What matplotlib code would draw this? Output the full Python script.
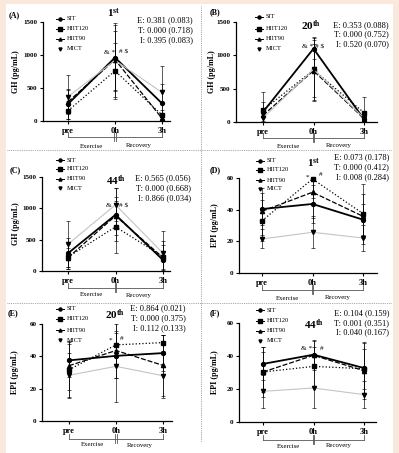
import matplotlib
matplotlib.use('Agg')
import matplotlib.pyplot as plt
from matplotlib.lines import Line2D
from matplotlib.patches import Rectangle
from matplotlib.transforms import blended_transform_factory

W, H = 399, 453
plt.rcParams['font.family'] = ['Liberation Serif', 'DejaVu Serif']
plt.rcParams['mathtext.fontset'] = 'custom'
plt.rcParams['mathtext.rm'] = 'Liberation Serif'
plt.rcParams['mathtext.bf'] = 'Liberation Serif:bold'
plt.rcParams['mathtext.it'] = 'Liberation Serif:italic'

# ---------------- data ----------------
timepoints = ['pre', '0h', '3h']
groups = ['SIT', 'HIIT120', 'HIIT90', 'MICT']

# GH (pg/mL), session 1
gh1_means = [[257, 961, 267], [156, 760, 90], [290, 930, 40], [367, 920, 433]]
gh1_sds = [[230, 500, 300], [150, 420, 80], [180, 560, 40], [330, 450, 400]]
# GH session 20
gh20_means = [[150, 1100, 40], [180, 780, 140], [100, 770, 50], [60, 790, 60]]
gh20_sds = [[150, 160, 40], [270, 450, 230], [90, 400, 50], [60, 480, 60]]
# GH session 44
gh44_means = [[283, 897, 176], [224, 705, 230], [213, 880, 213], [427, 1057, 283]]
gh44_sds = [[250, 420, 150], [200, 420, 250], [150, 300, 200], [370, 260, 360]]
# EPI (pg/mL), session 1
epi1_means = [[40.4, 43.6, 33.7], [33.0, 59.4, 37.5], [39.0, 51.0, 35.8], [21.5, 25.7, 22.1]]
epi1_sds = [[10, 12, 10], [13, 12, 19], [15, 16, 14], [6, 10, 8]]
# EPI session 20
epi20_means = [[37.5, 40.3, 42.0], [31.7, 47.1, 48.5], [34.2, 43.6, 34.4], [28.3, 33.8, 28.0]]
epi20_sds = [[10, 14, 11], [17, 13, 5], [15, 17, 19], [14, 22, 14]]
# EPI session 44
epi44_means = [[35.2, 40.8, 32.7], [30.3, 33.7, 32.3], [30.3, 40.4, 31.1], [18.6, 20.6, 16.6]]
epi44_sds = [[10, 8, 16], [12, 12, 12], [15, 9, 17], [10, 12, 8]]

stats_A = ['E: 0.381 (0.083)', 'T: 0.000 (0.718)', 'I: 0.395 (0.083)']
stats_B = ['E: 0.353 (0.088)', 'T: 0.000 (0.752)', 'I: 0.520 (0.070)']
stats_C = ['E: 0.565 (0.056)', 'T: 0.000 (0.668)', 'I: 0.866 (0.034)']
stats_D = ['E: 0.073 (0.178)', 'T: 0.000 (0.412)', 'I: 0.008 (0.284)']
stats_E = ['E: 0.864 (0.021)', 'T: 0.000 (0.375)', 'I: 0.112 (0.133)']
stats_F = ['E: 0.104 (0.159)', 'T: 0.001 (0.351)', 'I: 0.040 (0.167)']

gh_ticks = [0, 500, 1000, 1500]
epi_ticks = [0, 20, 40, 60]

# ---------------- styles ----------------
styles = [
    dict(ls='-', lw=1.3, color='black', marker='o', ms=2.8),
    dict(ls=':', lw=0.9, color='black', marker='s', ms=3.3),
    dict(ls=(0, (4, 1.5)), lw=0.9, color='black', marker='^', ms=3.0),
    dict(ls='-', lw=0.8, color='#c4c4c4', marker='v', ms=3.0),
]

fig = plt.figure(figsize=(W / 100, H / 100), dpi=100)
fig.patch.set_facecolor('#fbe8dc')
fig.add_artist(Rectangle((6 / W, 0), (393 - 6) / W, 1 - 4 / H, transform=fig.transFigure,
                         facecolor='white', edgecolor='none', zorder=-10))


def fx(x):
    return x / W


def fy(y):
    return 1 - y / H


# separators
sep = dict(color='#8a8a8a', lw=0.6, linestyle=(0, (1, 1.2)), transform=fig.transFigure)
fig.add_artist(Line2D([fx(7), fx(392)], [fy(150), fy(150)], **sep))
fig.add_artist(Line2D([fx(7), fx(392)], [fy(303), fy(303)], **sep))
fig.add_artist(Line2D([fx(201), fx(201)], [fy(6), fy(442)], **sep))


def panel(geom, means, sds, ymax, yticks, ylabel, ylab_x, label, label_xy,
          title, title_xy, stats, stats_right, stats_ys, leg_x, leg_ys, annos,
          br_off, txt_off):
    left, right, top, bot, xpre, x3h = geom
    sp = (x3h - xpre) / 2
    ax = fig.add_axes([fx(left), fy(bot), (right - left) / W, (bot - top) / H])
    ax.patch.set_alpha(0)
    ax.set_xlim(-(xpre - left) / sp, 2 + (right - x3h) / sp)
    ax.set_ylim(0, ymax)
    for s in ['top', 'right']:
        ax.spines[s].set_visible(False)
    for s in ['left', 'bottom']:
        ax.spines[s].set_linewidth(0.9)
    xs = list(range(len(timepoints)))
    ax.set_xticks(xs)
    ax.set_xticklabels(timepoints, fontsize=6, fontweight='bold')
    ax.set_yticks(yticks)
    ax.set_yticklabels([str(t) for t in yticks], fontsize=5.0, fontweight='bold')
    ax.tick_params(axis='both', direction='out', length=2.5, width=0.8, pad=1.5)
    for i, g in enumerate(groups):
        st = styles[i]
        cont = ax.errorbar(xs, means[i], yerr=sds[i], ecolor='black', elinewidth=0.45,
                           capsize=1.5, capthick=0.45, color=st['color'],
                           linestyle=st['ls'], lw=st['lw'], marker=st['marker'],
                           ms=st['ms'], mfc='black', mec='black', zorder=3 + i)
        cont[0].set_clip_on(False)
    fig.text(fx(ylab_x), fy((top + bot) / 2), ylabel, rotation=90, ha='center', va='center',
             fontsize=5.8, fontweight='bold')
    fig.text(fx(label_xy[0]), fy(label_xy[1]), label, ha='center', va='center',
             fontsize=5.8, fontweight='bold')
    fig.text(fx(title_xy[0]), fy(title_xy[1]), title, ha='center', va='center', fontsize=8)
    for s, yy in zip(stats, stats_ys):
        fig.text(fx(stats_right), fy(yy), s, ha='right', va='center', fontsize=6)
    # legend
    for i, g in enumerate(groups):
        st = styles[i]
        yy = fy(leg_ys[i])
        if i < 3:
            fig.add_artist(Line2D([fx(leg_x - 4), fx(leg_x + 4)], [yy, yy], color=st['color'],
                                  lw=0.7, linestyle='-', transform=fig.transFigure))
        fig.add_artist(Line2D([fx(leg_x)], [yy], marker=st['marker'], ms=2.2, color='black',
                              linestyle='none', transform=fig.transFigure))
        fig.text(fx(leg_x + 7), yy, g, ha='left', va='center', fontsize=4.6)
    for t, ax_, ay_ in annos:
        fig.text(fx(ax_), fy(ay_), t, ha='center', va='center', fontsize=5.2)
    # bracket
    tr = blended_transform_factory(ax.transData, fig.transFigure)
    yb = bot + br_off
    kw = dict(color='#555555', lw=0.6, transform=tr)
    fig.add_artist(Line2D([0, 2], [fy(yb), fy(yb)], **kw))
    fig.add_artist(Line2D([0, 0], [fy(yb - 5), fy(yb)], **kw))
    fig.add_artist(Line2D([2, 2], [fy(yb - 5), fy(yb)], **kw))
    d = 0.7 / sp
    fig.add_artist(Line2D([1 - d, 1 - d], [fy(yb - 5), fy(yb + 4)], **kw))
    fig.add_artist(Line2D([1 + d, 1 + d], [fy(yb - 5), fy(yb + 4)], **kw))
    ax.text(0.5, fy(yb + txt_off), 'Exercise', transform=tr, ha='center', va='center',
            fontsize=4.9)
    ax.text(1.5, fy(yb + txt_off), 'Recovery', transform=tr, ha='center', va='center',
            fontsize=4.9)
    return ax


def sup(n, s):
    return r'$\mathbf{' + n + r'}^{\mathbf{' + s + r'}}$'


panel((43, 170, 22, 121, 68, 162), gh1_means, gh1_sds, 1500, gh_ticks, 'GH (pg/mL)', 16,
      '(A)', (14, 15), sup('1', 'st'), (114, 13), stats_A, 193, (20, 30, 40),
      60, (19, 29, 39, 49), [('& *', 110, 52), ('# $', 124, 52)], 16, 9)
panel((236, 377, 22, 122, 263, 364), gh20_means, gh20_sds, 1500, gh_ticks, 'GH (pg/mL)', 212,
      '(B)', (215, 12), sup('20', 'th'), (311, 26), stats_B, 389, (25, 34, 44),
      259, (17, 29, 39, 49), [('& * # $', 313, 47)], 16, 8)
panel((42, 170, 177, 271, 68, 163), gh44_means, gh44_sds, 1500, gh_ticks, 'GH (pg/mL)', 16,
      '(C)', (15, 170), sup('44', 'th'), (116, 181), stats_C, 191, (178, 188, 198),
      60, (160, 169, 179, 188), [('& * # $', 117, 206)], 17, 7)
panel((239, 377, 178, 273, 262, 363), epi1_means, epi1_sds, 60, epi_ticks, 'EPI (pg/mL)', 215,
      '(D)', (215, 170), sup('1', 'st'), (314, 163), stats_D, 389, (157, 167, 177),
      260, (161, 170, 180, 189), [('*', 307, 177), ('#', 321, 175)], 17, 8)
panel((42, 172, 324, 421, 69, 163), epi20_means, epi20_sds, 60, epi_ticks, 'EPI (pg/mL)', 15,
      '(E)', (13, 313), sup('20', 'th'), (115, 315), stats_E, 186, (308, 318, 328),
      60, (309, 319, 330, 340), [('*', 110, 340), ('#', 122, 339)], 18, 6)
panel((239, 376, 323, 422, 263, 364), epi44_means, epi44_sds, 60, epi_ticks, 'EPI (pg/mL)', 215,
      '(F)', (215, 313), sup('44', 'th'), (314, 325), stats_F, 389, (313, 323, 332),
      260, (310, 321, 331, 341), [('& *', 307, 349), ('#', 322, 349)], 18, 6)

fig.savefig('out.png', dpi=100, facecolor=fig.get_facecolor())
